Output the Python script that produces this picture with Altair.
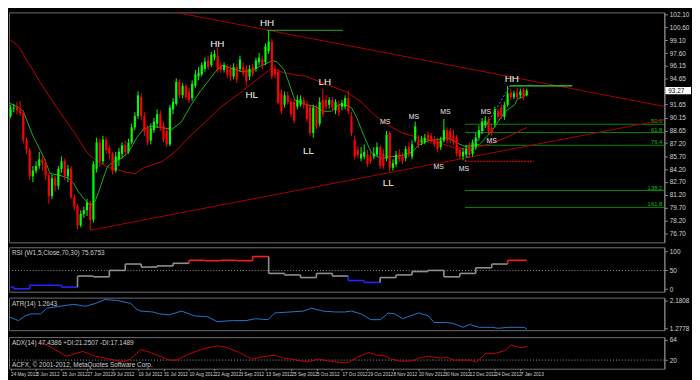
import altair as alt
import pandas as pd

# ---------------- data ----------------
opens = [90.33,91.20,91.31,90.99,90.66,87.50,86.41,83.36,84.01,84.55,
85.32,84.88,83.47,81.07,83.14,82.27,84.23,85.10,83.36,84.23,
80.96,79.87,77.69,79.00,79.43,80.30,78.34,84.23,87.28,85.10,
87.61,86.63,85.97,84.01,85.32,85.97,86.95,86.19,87.28,89.02,
90.33,92.51,90.33,88.92,87.50,88.70,89.46,90.55,89.24,88.59,
87.06,91.10,91.75,94.26,92.73,93.82,93.17,92.40,93.82,94.91,
95.13,95.78,96.76,96.22,97.09,97.31,96.22,95.67,96.00,95.78,
94.91,96.00,95.78,96.00,95.78,94.91,96.00,95.78,96.55,96.87,
96.55,97.85,98.94,95.78,95.46,92.95,91.64,92.73,91.97,91.97,
91.42,91.64,92.19,91.64,91.42,88.37,91.31,89.46,92.19,92.19,
91.64,92.19,90.99,91.64,91.42,91.42,92.40,90.33,87.61,86.41,
85.43,85.65,85.86,85.65,85.65,85.86,86.74,85.97,85.43,88.37,
84.34,84.77,85.97,85.65,85.43,86.74,85.65,87.50,87.61,87.28,
87.28,88.15,88.04,87.61,87.50,86.74,87.50,88.70,88.59,88.04,
87.83,86.41,85.65,85.86,86.95,85.97,86.74,87.83,88.59,89.24,
89.79,88.92,89.46,90.88,91.31,90.22,91.64,93.06,92.51,93.06,
92.73,93.38,92.73]
highs = [91.64,91.75,91.97,92.08,90.99,87.83,86.63,84.55,85.10,86.19,
85.65,85.32,83.79,83.57,83.47,84.55,85.65,85.43,84.66,84.55,
81.29,80.19,79.43,79.87,80.74,80.52,85.10,87.83,87.72,88.04,
87.94,86.95,86.19,86.19,86.63,87.28,87.50,87.72,89.46,90.77,
93.17,92.95,90.77,89.24,89.46,90.11,91.10,90.99,89.68,89.02,
91.64,92.40,94.69,94.58,94.15,94.04,93.60,94.47,95.67,96.00,
96.55,97.09,97.31,97.74,97.96,98.29,96.55,96.55,96.33,96.22,
96.44,96.33,97.31,96.55,96.22,96.22,96.33,97.09,97.64,97.31,
98.72,100.25,99.27,96.22,95.78,93.38,93.17,93.17,92.40,92.29,
92.73,92.73,92.51,92.08,91.64,91.64,91.64,92.51,93.49,92.73,
92.51,92.51,92.29,92.08,92.19,92.73,93.27,90.77,88.04,86.85,
86.74,87.06,86.41,86.19,86.74,87.28,86.95,86.52,88.59,88.59,
85.32,86.30,86.52,86.08,86.85,87.28,87.50,89.68,88.15,88.04,
88.26,88.59,88.37,88.04,87.83,87.94,90.01,89.02,88.92,88.70,
88.15,86.74,86.63,86.95,87.28,87.61,88.37,89.24,90.11,90.33,
90.22,89.46,91.42,91.20,91.64,91.97,93.82,93.49,93.27,93.60,
93.49,93.60,93.49]
lows = [90.11,90.77,90.55,90.33,87.17,85.97,82.92,82.70,83.68,84.23,
84.01,82.92,80.19,80.74,81.61,81.83,83.79,82.92,82.70,80.74,
79.43,77.25,77.47,78.56,78.78,77.13,78.01,83.79,84.45,84.77,
85.97,85.32,83.57,83.79,84.55,85.43,85.75,85.97,87.06,88.70,
90.01,89.90,88.04,86.95,87.06,88.37,89.02,88.59,87.28,86.74,
86.85,90.55,91.53,92.40,92.40,92.19,91.86,92.08,93.60,94.47,
94.91,95.46,95.67,96.00,96.76,95.35,95.35,95.35,94.69,94.37,
94.58,94.15,95.46,94.91,93.82,94.47,94.91,95.46,96.22,95.78,
96.22,97.53,94.58,94.69,91.64,90.55,91.31,91.64,90.22,89.46,
91.10,91.42,91.20,89.68,88.04,87.83,88.81,89.13,90.22,90.99,
91.20,90.88,90.55,90.33,90.99,91.10,90.55,88.04,85.32,85.43,
85.10,85.32,84.45,84.77,85.32,85.65,84.23,84.23,85.10,83.90,
84.01,84.45,84.99,84.77,85.10,85.54,85.32,87.28,86.63,86.95,
87.06,87.17,87.17,86.74,86.19,86.41,87.28,87.17,87.17,86.95,
85.65,85.32,85.21,85.54,85.54,85.65,86.41,87.50,88.26,88.92,
88.26,88.04,89.02,89.90,90.01,89.90,91.42,92.19,92.29,92.19,
92.40,92.19,92.62]
closes = [91.20,91.31,90.99,90.66,87.50,86.41,83.36,84.01,84.55,85.32,
84.88,83.47,81.07,83.14,82.27,84.23,85.10,83.36,84.23,80.96,
79.87,77.69,79.00,79.43,80.30,78.34,84.77,87.28,85.10,87.61,
86.41,85.97,84.01,85.65,86.19,86.95,86.19,87.28,89.02,90.33,
92.73,90.33,88.59,87.28,88.92,89.68,90.55,88.92,87.61,87.06,
91.31,91.97,94.26,92.73,93.82,92.51,92.19,94.04,95.13,95.35,
96.22,96.65,96.00,97.42,97.53,95.67,95.67,96.22,95.13,94.91,
96.00,94.58,96.87,95.24,94.37,95.78,95.24,96.76,97.09,96.22,
98.40,98.94,94.91,95.13,91.86,90.88,92.73,91.97,90.55,89.79,
92.19,92.29,91.64,90.01,88.37,91.31,89.13,91.97,90.55,91.42,
92.19,91.31,91.97,90.77,91.86,92.40,90.88,88.37,85.65,85.86,
85.97,86.19,84.77,85.10,85.97,86.74,84.55,84.55,88.15,84.34,
84.88,85.86,85.32,85.10,86.52,85.86,87.06,89.13,86.95,87.61,
87.83,87.50,87.50,87.06,86.52,87.50,88.70,87.50,87.50,87.28,
85.97,85.65,86.19,86.52,85.86,87.28,87.83,88.70,89.68,89.79,
88.59,88.37,91.10,90.22,90.33,91.64,92.95,92.51,92.95,92.51,
93.17,92.51,93.27]

date_labels = ["24 May 2012", "5 Jun 2012", "15 Jun 2012", "27 Jun 2012", "9 Jul 2012",
               "19 Jul 2012", "31 Jul 2012", "10 Aug 2012", "22 Aug 2012", "3 Sep 2012",
               "13 Sep 2012", "25 Sep 2012", "5 Oct 2012", "17 Oct 2012", "29 Oct 2012",
               "8 Nov 2012", "20 Nov 2012", "30 Nov 2012", "12 Dec 2012", "24 Dec 2012",
               "7 Jan 2013"]
price_ticks = [102.10, 100.60, 99.10, 97.60, 96.15, 94.65, 91.65, 90.15, 88.65,
               87.20, 85.70, 84.20, 82.70, 81.20, 79.70, 78.20, 76.70]

slow_i = [-0.5, 2.5, 9.4, 14.5, 19.7, 24.5, 29.6, 36.5, 39.2, 41.7, 47.7, 51.6, 56.7, 59.7,
          65.8, 71.8, 74.8, 81.7, 85.9, 88.9, 92.9, 98.9, 105.8, 110.0, 113.9, 119.1, 123.0,
          129.0, 134.1, 139.5, 144.1, 150.1, 156.1, 162.1]
slow_v = [99.27, 98.40, 94.15, 91.31, 88.59, 85.86, 84.55, 83.79, 83.68, 84.34, 85.10, 86.19,
          88.15, 89.13, 91.31, 92.95, 93.82, 95.78, 95.35, 95.13, 94.91, 94.04, 93.06, 91.97,
          90.55, 89.13, 88.37, 87.72, 87.28, 86.63, 86.52, 87.06, 87.93, 89.02]

fast_i = [-0.5, 2.5, 4.0, 5.5, 7.0, 9.1, 10.6, 12.4, 15.5, 18.2, 19.7, 21.2, 23.6, 25.1, 26.6,
          28.1, 29.6, 30.5, 32.6, 34.7, 36.2, 38.0, 39.6, 41.7, 43.8, 46.8, 50.7, 53.7, 56.7,
          59.7, 62.7, 64.8, 66.7, 69.7, 72.7, 75.7, 77.8, 79.9, 82.3, 83.8, 85.9, 87.7, 89.2,
          91.4, 92.9, 95.9, 98.0, 100.7, 102.8, 104.9, 107.0, 108.8, 110.3, 110.9, 113.1, 114.9,
          117.0, 119.1, 121.5, 123.9, 126.0, 128.1, 131.1, 134.1, 137.1, 138.9, 141.0, 143.2,
          145.6, 147.1, 149.2, 151.0, 152.2, 154.0, 155.5, 158.2, 159.1, 160.6, 162.1]
fast_v = [91.86, 91.31, 90.88, 89.46, 88.04, 86.52, 85.43, 83.68, 83.47, 83.14, 82.59, 81.61,
          80.52, 79.98, 80.52, 82.05, 83.68, 84.55, 85.10, 85.43, 85.86, 86.74, 87.83, 88.81,
          89.13, 89.02, 88.81, 89.68, 91.64, 93.27, 94.69, 95.67, 96.22, 95.78, 95.46, 95.56,
          96.00, 96.33, 96.76, 96.55, 95.67, 93.82, 92.19, 91.86, 91.64, 91.42, 90.88, 90.88,
          91.64, 91.64, 91.31, 90.01, 88.59, 88.04, 86.19, 85.65, 85.43, 85.65, 85.65, 85.86,
          86.19, 86.95, 87.50, 87.61, 87.83, 87.50, 87.06, 86.74, 86.95, 87.06, 87.83, 88.59,
          89.24, 90.22, 90.88, 91.64, 92.29, 92.51, 92.95]

trend_i = [50.7, 205.2, 25.1, 205.2]
trend_v = [102.40, 91.44, 77.13, 89.91]
trend_g = ["upper", "upper", "lower", "lower"]

swing_text = ["HH", "HH", "HL", "LH", "LL", "LL", "HH"]
swing_i = [64.9, 80.5, 75.7, 98.6, 93.5, 118.5, 157.3]
swing_v = [98.62, 101.12, 92.73, 94.26, 86.30, 82.59, 94.58]
ms_i = [117.6, 126.6, 136.5, 134.4, 142.3, 149.2, 151.0]
ms_v = [89.68, 90.22, 90.77, 84.45, 84.23, 90.77, 87.39]

hh_line_i0 = [80.5, 156.7]
hh_line_i1 = [104.3, 176.3]
hh_line_v = [100.25, 93.82]

fib_names = ["50.0", "61.8", "76.4", "138.2", "161.8"]
fib_v = [89.38, 88.42, 86.95, 81.72, 79.76]
fib_start = 142.6
fib100_i = [142.6, 164.2]
fib100_v = 85.10
fibtrend_i = [142.6, 156.7]
fibtrend_v = [85.10, 93.82]

rsi_start = [0, 1, 6, 11, 16, 21, 26, 31, 36, 41, 46, 51, 56, 61, 66, 71, 76, 81, 86, 91,
             96, 101, 106, 111, 116, 121, 126, 131, 136, 141, 146, 151, 156]
rsi_val = [5.5, 1.0, 10.5, 10.5, 5.5, 35, 33, 50, 67, 59, 62, 69, 77, 76, 77, 76, 87, 42, 38, 31,
           42, 35, 23, 18, 31, 38, 47, 50, 33, 42, 57, 67, 77]
rsi_last_bar = 162

atr_i = [-0.5, 2.5, 4.6, 6.4, 9.4, 11.5, 15.5, 19.7, 23.6, 26.6, 29.6, 33.5, 37.7, 39.5, 40.8,
         44.7, 46.8, 49.8, 53.7, 57.6, 61.9, 64.8, 69.7, 73.9, 76.9, 80.8, 82.9, 87.7, 92.0,
         94.4, 98.0, 101.9, 104.9, 107.0, 110.0, 113.0, 116.1, 118.5, 120.6, 123.0, 128.1,
         131.1, 132.9, 137.1, 139.0, 142.0, 144.1, 147.1, 151.0, 153.1, 156.1, 161.2, 162.1]
atr_v = [1.651, 1.527, 1.683, 1.745, 1.745, 1.932, 1.994, 2.056, 1.994, 2.087, 2.212, 2.181,
         2.087, 1.901, 1.838, 1.807, 1.745, 1.714, 1.838, 1.683, 1.651, 1.496, 1.527, 1.527,
         1.589, 1.558, 1.776, 1.807, 1.838, 1.932, 1.838, 1.807, 1.807, 1.838, 1.745, 1.558,
         1.558, 1.776, 1.745, 1.589, 1.776, 1.683, 1.465, 1.465, 1.433, 1.309, 1.402, 1.309,
         1.309, 1.278, 1.309, 1.309, 1.247]

adx_i = [9.4, 12.4, 17.6, 22.7, 26.6, 29.6, 35.6, 37.7, 40.8, 43.8, 49.8, 52.2, 55.8, 59.7,
         64.8, 67.9, 71.8, 75.7, 79.9, 82.9, 85.9, 89.9, 92.9, 96.8, 99.8, 104.9, 106.4, 108.8,
         112.4, 114.9, 117.0, 119.4, 122.1, 126.0, 128.1, 131.1, 135.0, 137.1, 139.0, 144.1,
         146.2, 149.2, 152.2, 155.2, 157.1, 159.8, 162.1]
adx_v = [59.8, 49.3, 28.4, 38.9, 28.4, 24.2, 15.8, 22.1, 43.0, 36.8, 20.0, 20.0, 32.6, 43.0,
         51.4, 47.2, 36.8, 22.1, 28.4, 30.5, 24.2, 20.0, 15.8, 22.1, 17.9, 13.7, 15.8, 26.3,
         36.8, 30.5, 30.5, 22.1, 17.9, 17.9, 24.2, 28.4, 24.2, 26.3, 20.0, 20.0, 15.8, 34.7,
         34.7, 41.0, 53.5, 47.2, 49.3]

rsi_title = "RSI (W1,5,Close,70,30) 75.6753"
atr_title = "ATR(14) 1.2643"
adx_title = "ADX(14) 47.4386 +DI:21.2507 -DI:17.1489"
footer = "ACFX, \u00a9 2001-2012, MetaQuotes Software Corp."

# ---------------- layout ----------------
FONT = "Liberation Sans"
NARROW = "Liberation Sans Narrow, Liberation Sans"
W = 664
H_MAIN, H_RSI, H_ATR, H_ADX = 233, 45, 33, 32
X_END = 205.2
XS = alt.Scale(domain=[-0.5, X_END], nice=False, zero=False)
YS = alt.Scale(domain=[75.72, 102.32], nice=False, zero=False)
YA = alt.Axis(orient="right", values=price_ticks, format=".2f", title=None,
              labelOverlap=False, labelFlush=False)
XN = alt.X("i:Q", scale=XS, axis=None)

# ---- main price panel ----
bars = pd.DataFrame({"i": list(range(len(closes))), "o": opens, "h": highs, "l": lows, "c": closes})
cc = alt.Color("dir:N", scale=alt.Scale(domain=["up", "down"], range=["#00ff00", "#ff0000"]), legend=None)
cbase = alt.Chart(bars).transform_calculate(dir="datum.c >= datum.o ? 'up' : 'down'")
wicks = cbase.mark_rule(strokeWidth=1).encode(x=XN, y=alt.Y("l:Q", scale=YS, axis=YA), y2="h:Q", color=cc)
bodies = cbase.mark_rule(strokeWidth=2.2).encode(x=XN, y=alt.Y("o:Q", scale=YS, axis=YA), y2="c:Q", color=cc)

slow = alt.Chart(pd.DataFrame({"i": slow_i, "v": slow_v})).mark_line(
    color="#c00000", strokeWidth=1, clip=True).encode(x=XN, y=alt.Y("v:Q", scale=YS, axis=YA))
fast = alt.Chart(pd.DataFrame({"i": fast_i, "v": fast_v})).mark_line(
    color="#1fae1f", strokeWidth=1, clip=True).encode(x=XN, y=alt.Y("v:Q", scale=YS, axis=YA))
trends = alt.Chart(pd.DataFrame({"i": trend_i, "v": trend_v, "g": trend_g})).mark_line(
    color="#a80000", strokeWidth=1, clip=True).encode(x=XN, y=alt.Y("v:Q", scale=YS, axis=YA), detail="g:N")

hh_df = pd.DataFrame({"i": hh_line_i0, "i1": hh_line_i1, "v": hh_line_v})
hh1 = alt.Chart(hh_df.iloc[[0]]).mark_rule(color="#2fa82f", strokeWidth=1).encode(
    x=XN, x2="i1:Q", y=alt.Y("v:Q", scale=YS, axis=YA))
hh2 = alt.Chart(hh_df.iloc[[1]]).mark_rule(color="#33d633", strokeWidth=1.3).encode(
    x=XN, x2="i1:Q", y=alt.Y("v:Q", scale=YS, axis=YA))

fib_df = pd.DataFrame({"i": [fib_start] * len(fib_v), "i1": [X_END] * len(fib_v), "v": fib_v, "n": fib_names})
fib_lines = alt.Chart(fib_df).mark_rule(color="#008a00", strokeWidth=1, clip=True).encode(
    x=XN, x2="i1:Q", y=alt.Y("v:Q", scale=YS, axis=YA))
fib_text = alt.Chart(fib_df).mark_text(color="#13b513", fontSize=6, align="right", baseline="alphabetic",
                                       dx=-2, dy=-1, font=FONT).encode(
    x=alt.X("i1:Q", scale=XS, axis=None), y=alt.Y("v:Q", scale=YS, axis=YA), text="n:N")
fib100 = alt.Chart(pd.DataFrame({"i": [fib100_i[0]], "i1": [fib100_i[1]], "v": [fib100_v]})).mark_rule(
    color="#c00000", strokeWidth=1.3, strokeDash=[2, 1]).encode(x=XN, x2="i1:Q", y=alt.Y("v:Q", scale=YS, axis=YA))
fibtrend = alt.Chart(pd.DataFrame({"i": fibtrend_i, "v": fibtrend_v})).mark_line(
    color="#4a86d8", strokeWidth=1, strokeDash=[2, 2]).encode(x=XN, y=alt.Y("v:Q", scale=YS, axis=YA))

swing = alt.Chart(pd.DataFrame({"i": swing_i, "v": swing_v, "t": swing_text})).mark_text(
    color="#f2f2f2", fontSize=10, font=FONT).encode(x=XN, y=alt.Y("v:Q", scale=YS, axis=YA), text="t:N")
ms = alt.Chart(pd.DataFrame({"i": ms_i, "v": ms_v, "t": ["MS"] * len(ms_i)})).mark_text(
    color="#e8e8e8", fontSize=7, font=FONT).encode(x=XN, y=alt.Y("v:Q", scale=YS, axis=YA), text="t:N")

cur = pd.DataFrame({"v": [closes[-1]], "t": [f"{closes[-1]:.2f}"]})
cur_box = alt.Chart(cur).transform_calculate(v0="datum.v - 0.42", v1="datum.v + 0.42").mark_rect(
    color="#ffffff").encode(x=alt.value(W + 1), x2=alt.value(W + 27),
                            y=alt.Y("v0:Q", scale=YS, axis=YA), y2="v1:Q")
cur_txt = alt.Chart(cur).mark_text(color="#000000", fontSize=6.5, align="left", font=FONT).encode(
    x=alt.value(W + 4), y=alt.Y("v:Q", scale=YS, axis=YA), text="t:N")

main = alt.layer(fib_lines, fib_text, fib100, trends, slow, fast, wicks, bodies, hh1, hh2, fibtrend,
                 swing, ms, cur_box, cur_txt).properties(width=W, height=H_MAIN)


def title_layer(text, ypos=6):
    return alt.Chart(pd.DataFrame({"t": [text]})).mark_text(
        color="#cfcfcf", fontSize=6.5, align="left", baseline="middle", font=FONT).encode(
        x=alt.value(3), y=alt.value(ypos), text="t:N")


# ---- RSI panel ----
RS = alt.Scale(domain=[-6.7, 111.6], nice=False, zero=False)
RA = alt.Axis(orient="right", values=[0, 50, 100], format="d", title=None, labelOverlap=False)
rsi_df = pd.DataFrame({"i": rsi_start, "i1": rsi_start[1:] + [rsi_last_bar], "v": rsi_val,
                       "pv": [rsi_val[0]] + rsi_val[:-1]})
zc = alt.Color("zone:N", scale=alt.Scale(domain=["low", "mid", "high"], range=["#2424ff", "#8f8f8f", "#ff1a1a"]),
               legend=None)
rbase = alt.Chart(rsi_df).transform_calculate(zone="datum.v < 30 ? 'low' : (datum.v > 70 ? 'high' : 'mid')")
rsi_h = rbase.mark_rule(strokeWidth=1.6).encode(x=XN, x2="i1:Q", y=alt.Y("v:Q", scale=RS, axis=RA), color=zc)
rsi_vv = rbase.mark_rule(strokeWidth=1.6).encode(x=XN, y=alt.Y("pv:Q", scale=RS, axis=RA), y2="v:Q", color=zc)
rsi_lvl = alt.Chart(pd.DataFrame({"v": [50]})).mark_rule(color="#9a9a9a", strokeDash=[1, 2], strokeWidth=1).encode(
    y=alt.Y("v:Q", scale=RS, axis=RA))
rsi = alt.layer(rsi_lvl, rsi_h, rsi_vv, title_layer(rsi_title)).properties(width=W, height=H_RSI)

# ---- ATR panel ----
AS = alt.Scale(domain=[1.215, 2.274], nice=False, zero=False)
AA = alt.Axis(orient="right", values=[1.2778, 2.1808], format=".4f", title=None, labelOverlap=False)
atr_line = alt.Chart(pd.DataFrame({"i": atr_i, "v": atr_v})).mark_line(
    color="#1f78d1", strokeWidth=1, clip=True).encode(x=XN, y=alt.Y("v:Q", scale=AS, axis=AA))
atr = alt.layer(atr_line, title_layer(atr_title)).properties(width=W, height=H_ATR)

# ---- ADX panel ----
DS = alt.Scale(domain=[1.1, 70.3], nice=False, zero=False)
DA = alt.Axis(orient="right", values=[1, 20, 64], format="d", title=None, labelOverlap=False)
label_expr = "[" + ",".join("'" + d + "'" for d in date_labels) + "][round(datum.value / 8)]"
XA = alt.Axis(orient="bottom", values=list(range(0, 8 * len(date_labels), 8)), labelExpr=label_expr,
              labelAlign="left", labelFontSize=4.7, labelFont=NARROW, tickSize=2, labelPadding=1,
              domain=False, title=None, labelOverlap=False, labelFlush=False)
XB = alt.X("i:Q", scale=XS, axis=XA)
adx_line = alt.Chart(pd.DataFrame({"i": adx_i, "v": adx_v})).mark_line(
    color="#c80000", strokeWidth=1, clip=True).encode(x=XB, y=alt.Y("v:Q", scale=DS, axis=DA))
adx_lvl = alt.Chart(pd.DataFrame({"i": [-0.5], "i1": [X_END], "v": [20]})).mark_rule(
    color="#9a9a9a", strokeDash=[1, 2], strokeWidth=1).encode(x=XB, x2="i1:Q", y=alt.Y("v:Q", scale=DS, axis=DA))
adx = alt.layer(adx_lvl, adx_line, title_layer(adx_title),
                title_layer(footer, ypos=H_ADX - 4)).properties(width=W, height=H_ADX)

chart = alt.vconcat(main, rsi, atr, adx, spacing=3).resolve_scale(
    x="independent", y="independent", color="independent").properties(padding=0)
chart = chart.configure(background="#000000", font=FONT).configure_view(
    stroke="#6e6e6e", strokeWidth=1).configure_axis(
    grid=False, labelColor="#d4d4d4", labelFontSize=6.5, labelFont=FONT, tickColor="#8a8a8a",
    domainColor="#8a8a8a", tickSize=3, labelPadding=2)

chart.save("out.html", embed_options={"renderer": "svg", "actions": False})
